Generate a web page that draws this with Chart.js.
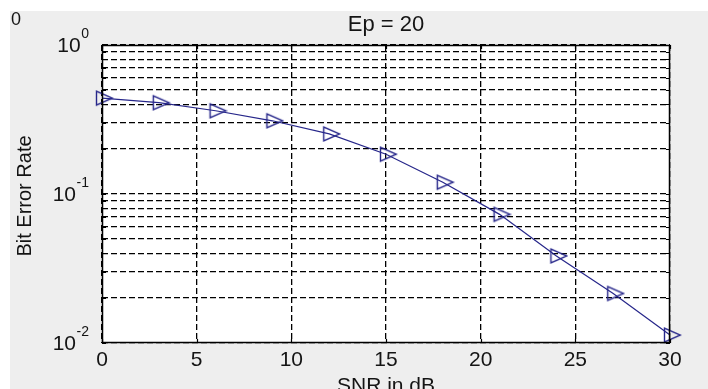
<!DOCTYPE html>
<html>
<head>
<meta charset="utf-8">
<script src="https://cdn.jsdelivr.net/npm/chart.js@4/dist/chart.umd.min.js"></script>
<style>
  html, body { margin: 0; padding: 0; background: #eeeeee; }
  #wrap { position: relative; width: 708px; height: 389px; }
  canvas { display: block; }
</style>
</head>
<body>
<div id="wrap"><canvas id="ber" width="708" height="389"></canvas></div>
<script>
// BER curve, sampled every 3 dB
const snrDb = [0, 3, 6, 9, 12, 15, 18, 21, 24, 27, 30];
const bitErrorRate = [0.44, 0.41, 0.362, 0.31, 0.253, 0.185, 0.12, 0.073, 0.0384, 0.0215, 0.0113];

// axis ticks
const xTickValues = [0, 5, 10, 15, 20, 25, 30];
const yDecadeValues = [0.01, 0.1, 1];
const yDecadeExponents = ['-2', '-1', '0'];
const yMinorMultipliers = [1, 2, 3, 4, 5, 6, 7, 8, 9];

// texts
const titleText = 'Ep = 20';
const xAxisTitle = 'SNR in dB';
const yAxisTitle = 'Bit Error Rate';
const cornerText = '0';

const FONT = '"Liberation Sans", Arial, sans-serif';
const NAVY = '#26268a';
const TEXT = '#141414';

// log grid: every multiplier inside each decade, plus the top decade
const yGridValues = [];
for (let i = 0; i < yDecadeValues.length - 1; i++) {
  for (const m of yMinorMultipliers) yGridValues.push(+(m * yDecadeValues[i]).toPrecision(3));
}
yGridValues.push(yDecadeValues[yDecadeValues.length - 1]);

// open right-pointing triangle marker
function makeMarker() {
  const c = document.createElement('canvas');
  c.width = 24; c.height = 18;
  const g = c.getContext('2d');
  g.strokeStyle = NAVY;
  g.lineWidth = 1.4;
  g.beginPath();
  g.moveTo(6.5, 2);
  g.lineTo(6.5, 16);
  g.lineTo(22.5, 9);
  g.closePath();
  g.stroke();
  return c;
}

const frame = {
  id: 'frame',
  beforeDraw(chart) {
    const { ctx, chartArea: a, width, height } = chart;
    ctx.save();
    ctx.fillStyle = '#eeeeee';
    ctx.fillRect(0, 0, width, height);
    ctx.fillStyle = '#ffffff';
    ctx.fillRect(0, 0, width, 11);
    ctx.fillRect(0, 0, 10, height);
    ctx.fillRect(a.left, a.top, a.right - a.left, a.bottom - a.top);
    ctx.restore();
  },
  afterDatasetsDraw(chart) {
    const { ctx, chartArea: a, scales: { x, y } } = chart;
    ctx.save();
    // axes box
    ctx.strokeStyle = '#000';
    ctx.lineWidth = 1.5;
    ctx.strokeRect(a.left + 0.5, a.top + 0.5, a.right - a.left - 1, a.bottom - a.top - 1);
    // inward tick marks
    ctx.lineWidth = 1.2;
    ctx.beginPath();
    for (const v of xTickValues) {
      const px = Math.round(x.getPixelForValue(v)) + 0.5;
      ctx.moveTo(px, a.bottom); ctx.lineTo(px, a.bottom - 4);
      ctx.moveTo(px, a.top); ctx.lineTo(px, a.top + 4);
    }
    for (const v of yGridValues) {
      const py = Math.round(y.getPixelForValue(v)) + 0.5;
      ctx.moveTo(a.left, py); ctx.lineTo(a.left + 4, py);
      ctx.moveTo(a.right, py); ctx.lineTo(a.right - 4, py);
    }
    ctx.stroke();

    ctx.fillStyle = TEXT;
    // x tick labels
    ctx.font = '21px ' + FONT;
    ctx.textAlign = 'center';
    ctx.textBaseline = 'alphabetic';
    for (const v of xTickValues) ctx.fillText(String(v), x.getPixelForValue(v), 366);

    // y decade labels, 10 with superscript exponent
    const labelRight = a.left - 13;
    yDecadeValues.forEach((v, i) => {
      const py = y.getPixelForValue(v);
      ctx.textAlign = 'right';
      ctx.font = '14px ' + FONT;
      const expW = ctx.measureText(yDecadeExponents[i]).width;
      ctx.fillText(yDecadeExponents[i], labelRight, py - 7);
      ctx.font = '21px ' + FONT;
      ctx.fillText('10', labelRight - expW - 0.5, py + 7);
    });

    // title
    ctx.textAlign = 'center';
    ctx.font = '22px ' + FONT;
    ctx.fillText(titleText, (a.left + a.right) / 2, 31);

    // x axis title
    ctx.font = '21px ' + FONT;
    ctx.fillText(xAxisTitle, (a.left + a.right) / 2, 392);

    // y axis title
    ctx.save();
    ctx.translate(31, 196);
    ctx.rotate(-Math.PI / 2);
    ctx.font = '20px ' + FONT;
    ctx.fillText(yAxisTitle, 0, 0);
    ctx.restore();

    // corner label
    ctx.textAlign = 'left';
    ctx.font = '18px ' + FONT;
    ctx.fillText(cornerText, 11, 25);
    ctx.restore();
  }
};

new Chart(document.getElementById('ber'), {
  type: 'line',
  data: {
    datasets: [{
      data: snrDb.map((s, i) => ({ x: s, y: bitErrorRate[i] })),
      borderColor: NAVY,
      borderWidth: 1.2,
      tension: 0,
      fill: false,
      clip: false,
      pointStyle: makeMarker(),
      pointRadius: 8,
      pointHoverRadius: 8
    }]
  },
  options: {
    responsive: false,
    animation: false,
    devicePixelRatio: 1,
    events: [],
    layout: { padding: { left: 102, top: 45, right: 38, bottom: 46 } },
    plugins: { legend: { display: false }, tooltip: { enabled: false }, title: { display: false } },
    scales: {
      x: {
        type: 'linear',
        min: 0,
        max: 30,
        afterBuildTicks(scale) { scale.ticks = xTickValues.map(v => ({ value: v })); },
        ticks: { display: false },
        grid: { color: '#000', lineWidth: 1.3, drawTicks: false },
        border: { display: false, dash: [6, 3] }
      },
      y: {
        type: 'logarithmic',
        min: 0.01,
        max: 1,
        afterBuildTicks(scale) { scale.ticks = yGridValues.map(v => ({ value: v })); },
        ticks: { display: false },
        grid: { color: '#000', lineWidth: 1.3, drawTicks: false },
        border: { display: false, dash: [6, 3] }
      }
    }
  },
  plugins: [frame]
});
</script>
</body>
</html>
